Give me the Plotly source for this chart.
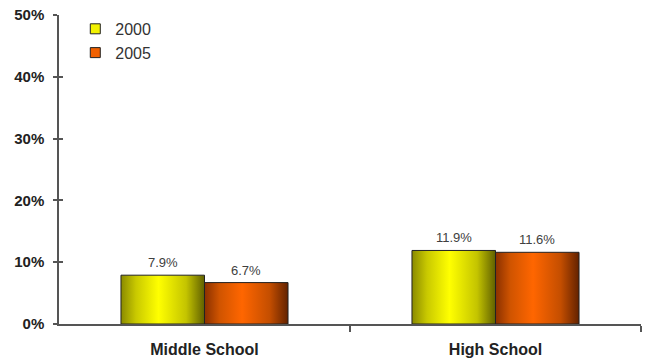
import plotly.graph_objects as go

# Share of students, by school level and survey year
categories = ["Middle School", "High School"]
years = ["2000", "2005"]
values_2000 = [7.9, 11.9]
values_2005 = [6.7, 11.6]
y_tick_vals = [0, 10, 20, 30, 40, 50]
y_tick_text = ["0%", "10%", "20%", "30%", "40%", "50%"]

series = [values_2000, values_2005]

# Horizontal shading across each bar: dark edges, bright core
gradients = {
    "2000": [[0, "#8a8a00"], [0.18, "#c9c900"], [0.45, "#ffff00"],
             [0.78, "#c4c400"], [1, "#606000"]],
    "2005": [[0, "#8a3000"], [0.18, "#d05400"], [0.45, "#ff6600"],
             [0.78, "#c44e00"], [1, "#632200"]],
}
legend_fill = {"2000": "#f2f200", "2005": "#f06000"}

bar_width = 0.287
offsets = [-bar_width, 0.0]
FONT = "Liberation Sans, Arial, sans-serif"

fig = go.Figure()

annotations = []
for j, year in enumerate(years):
    vals = series[j]
    for i, v in enumerate(vals):
        x0 = i + offsets[j]
        x1 = x0 + bar_width
        fig.add_trace(go.Scatter(
            x=[x0, x1, x1, x0, x0],
            y=[0, 0, v, v, 0],
            mode="lines",
            fill="toself",
            fillcolor=legend_fill[year],
            fillgradient=dict(type="horizontal", colorscale=gradients[year]),
            line=dict(color="#222222", width=1),
            name=year,
            legendgroup=year,
            showlegend=False,
            hoverinfo="skip",
            yaxis="y2",
        ))
        # value label above the bar
        annotations.append(dict(
            x=x0 + bar_width / 2, y=v, xref="x", yref="y",
            text=f"{v}%", showarrow=False,
            xanchor="center", yanchor="bottom", yshift=3,
            font=dict(family=FONT, size=13, color="#404040"),
        ))
    # square key for the legend
    fig.add_trace(go.Scatter(
        x=[None], y=[None],
        mode="markers",
        marker=dict(symbol="square", size=10, color=legend_fill[year],
                    line=dict(color="#222222", width=1)),
        name=year,
        legendgroup=year,
        showlegend=True,
        hoverinfo="skip",
    ))

fig.update_layout(
    width=645,
    height=360,
    margin=dict(l=59, r=4, t=15, b=36),
    paper_bgcolor="white",
    plot_bgcolor="white",
    showlegend=True,
    annotations=annotations,
    legend=dict(
        x=0.028, y=1.01, xanchor="left", yanchor="top",
        font=dict(family=FONT, size=16, color="#333333"),
        bgcolor="rgba(0,0,0,0)",
        itemwidth=30,
        tracegroupgap=0,
    ),
    xaxis=dict(
        range=[-0.5, 1.5],
        tickvals=[0, 1],
        ticktext=categories,
        ticks="",
        showgrid=False,
        zeroline=False,
        showline=True,
        linecolor="#555555",
        linewidth=1.5,
        tickfont=dict(family=FONT, size=16, color="#222222", weight="bold"),
        ticklabelstandoff=10,
        automargin=False,
        minor=dict(tickvals=[0.5, 1.5], ticks="outside", ticklen=6,
                   tickcolor="#555555", tickwidth=1.5),
        fixedrange=True,
    ),
    yaxis=dict(
        range=[0, 50],
        tickvals=y_tick_vals,
        ticktext=y_tick_text,
        ticks="outside",
        ticklen=4,
        tickwidth=1.5,
        tickcolor="#555555",
        showgrid=False,
        zeroline=False,
        showline=True,
        linecolor="#555555",
        linewidth=1.5,
        tickfont=dict(family=FONT, size=15, color="#222222", weight="bold"),
        ticklabelstandoff=6,
        automargin=False,
        fixedrange=True,
    ),
    yaxis2=dict(
        range=[0, 50],
        overlaying="y",
        side="left",
        tickvals=y_tick_vals,
        ticks="inside",
        ticklen=4,
        tickwidth=1.5,
        tickcolor="#555555",
        showticklabels=False,
        showgrid=False,
        zeroline=False,
        showline=False,
        automargin=False,
        fixedrange=True,
    ),
)

fig.write_html("out.html")
